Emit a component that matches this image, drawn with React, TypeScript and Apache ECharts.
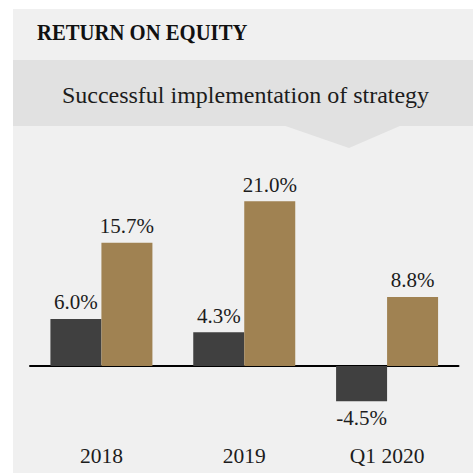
import React, { useEffect, useRef } from "react";
import * as echarts from "echarts";

const categories = ["2018", "2019", "Q1 2020"];
const seriesDark = [6.0, 4.3, -4.5];
const seriesGold = [15.7, 21.0, 8.8];
const titleText = "RETURN ON EQUITY";
const subtitleText = "Successful implementation of strategy";

const FONT = "'Liberation Serif', 'Times New Roman', serif";
const DARK = "#404040";
const GOLD = "#a08252";
const TEXT = "#1c1c1c";

function buildData(values: number[]) {
  return values.map((v) => ({
    value: v,
    label: { position: v < 0 ? "bottom" : "top" },
  }));
}

export default function App() {
  const ref = useRef<HTMLDivElement>(null);
  useEffect(() => {
    if (!ref.current) return;
    const chart = echarts.init(ref.current, null, { renderer: "svg" });
    const label = {
      show: true,
      distance: 6,
      fontFamily: FONT,
      fontSize: 21,
      color: TEXT,
      formatter: (p: any) => `${Number(p.value).toFixed(1)}%`,
    };
    chart.setOption({
      animation: false,
      backgroundColor: "#ffffff",
      graphic: [
        { type: "rect", shape: { x: 13, y: 9, width: 460, height: 464 }, style: { fill: "#f0f0f0" }, z: -10 },
        { type: "rect", shape: { x: 13, y: 60, width: 460, height: 66 }, style: { fill: "#e1e1e1" }, z: -9 },
        {
          type: "polygon",
          shape: { points: [[284, 125.5], [401, 125.5], [349, 148]] },
          style: { fill: "#e1e1e1" },
          z: -9,
        },
        {
          type: "text",
          x: 37,
          y: 33,
          scaleX: 0.9,
          style: {
            text: titleText,
            font: `bold 23px ${FONT}`,
            fill: "#111111",
            textAlign: "left",
            textVerticalAlign: "middle",
          },
        },
        {
          type: "text",
          x: 245.5,
          y: 95,
          style: {
            text: subtitleText,
            font: `24px ${FONT}`,
            fill: TEXT,
            textAlign: "center",
            textVerticalAlign: "middle",
          },
        },
      ],
      grid: {
        left: 30,
        right: 14.5,
        top: 169.75,
        bottom: 67.75,
        containLabel: false,
        outerBoundsMode: "none",
      },
      xAxis: {
        type: "category",
        data: categories,
        axisLine: { show: true, onZero: true, lineStyle: { color: "#000000", width: 2 } },
        axisTick: { show: false },
        axisLabel: { margin: 40, fontFamily: FONT, fontSize: 21.5, color: TEXT },
      },
      yAxis: {
        type: "value",
        min: -5,
        max: 25,
        show: false,
        splitLine: { show: false },
      },
      series: [
        {
          type: "bar",
          data: buildData(seriesDark),
          barWidth: 51,
          barGap: "0%",
          itemStyle: { color: DARK },
          label,
        },
        {
          type: "bar",
          data: buildData(seriesGold),
          barWidth: 51,
          barGap: "0%",
          itemStyle: { color: GOLD },
          label,
        },
      ],
    });
    return () => chart.dispose();
  }, []);
  return (
    <div
      ref={ref}
      style={{ position: "fixed", left: 0, top: 0, width: 473, height: 473 }}
    />
  );
}
